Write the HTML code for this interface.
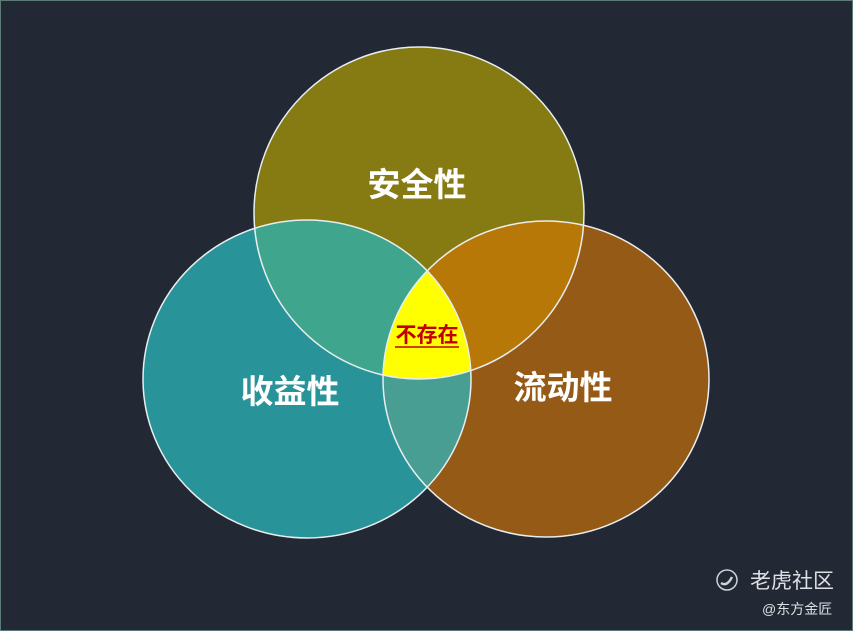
<!DOCTYPE html>
<html><head><meta charset="utf-8"><style>
html,body{margin:0;padding:0;background:#222834;}
svg{display:block;}
</style></head><body>
<svg width="853" height="631" viewBox="0 0 853 631" xmlns="http://www.w3.org/2000/svg">
<defs>
<clipPath id="cT"><ellipse cx="419" cy="213" rx="165" ry="166"/></clipPath>
<clipPath id="cL"><ellipse cx="307" cy="379" rx="164" ry="159"/></clipPath>
<clipPath id="cR"><ellipse cx="546" cy="379" rx="163" ry="158"/></clipPath>
</defs>
<rect x="0.5" y="0.5" width="852" height="630" fill="#222834" stroke="#5d7c78" stroke-width="1"/>
<ellipse cx="419" cy="213" rx="165" ry="166" fill="#857b12"/>
<ellipse cx="307" cy="379" rx="164" ry="159" fill="#29939a"/>
<ellipse cx="546" cy="379" rx="163" ry="158" fill="#965a17"/>
<g clip-path="url(#cT)"><ellipse cx="307" cy="379" rx="164" ry="159" fill="#3fa68d"/><ellipse cx="546" cy="379" rx="163" ry="158" fill="#b77808"/></g>
<g clip-path="url(#cL)"><ellipse cx="546" cy="379" rx="163" ry="158" fill="#489e93"/></g>
<g clip-path="url(#cT)"><g clip-path="url(#cL)"><ellipse cx="546" cy="379" rx="163" ry="158" fill="#ffff00"/></g></g>
<g fill="none" stroke="#e8eef0" stroke-width="1.5">
<ellipse cx="419" cy="213" rx="165" ry="166"/>
<ellipse cx="307" cy="379" rx="164" ry="159"/>
<ellipse cx="546" cy="379" rx="163" ry="158"/>
</g>
<g font-family="'Liberation Sans','Noto Sans CJK SC',sans-serif" font-weight="bold" fill="#ffffff" font-size="33" text-anchor="middle">
<text x="417" y="196">安全性</text>
<text x="290" y="403">收益性</text>
<text x="563" y="399">流动性</text>
</g>
<text x="427" y="342" font-family="'Liberation Sans','Noto Sans CJK SC',sans-serif" font-weight="bold" font-size="21" fill="#c00000" text-anchor="middle">不存在</text>
<line x1="395" y1="347" x2="459" y2="347" stroke="#c00000" stroke-width="1.5"/>
<circle cx="727" cy="580" r="10" fill="none" stroke="#cfd3d8" stroke-width="1.5"/>
<path d="M721 583 q6 4 11 -6" fill="none" stroke="#cfd3d8" stroke-width="2.5"/>
<text x="750" y="588" font-family="'Liberation Sans','Noto Sans CJK SC',sans-serif" font-size="21" fill="#dde0e4">老虎社区</text>
<text x="762" y="614" font-family="'Liberation Sans','Noto Sans CJK SC',sans-serif" font-size="14" fill="#dde0e4">@东方金匠</text>
</svg>
</body></html>
